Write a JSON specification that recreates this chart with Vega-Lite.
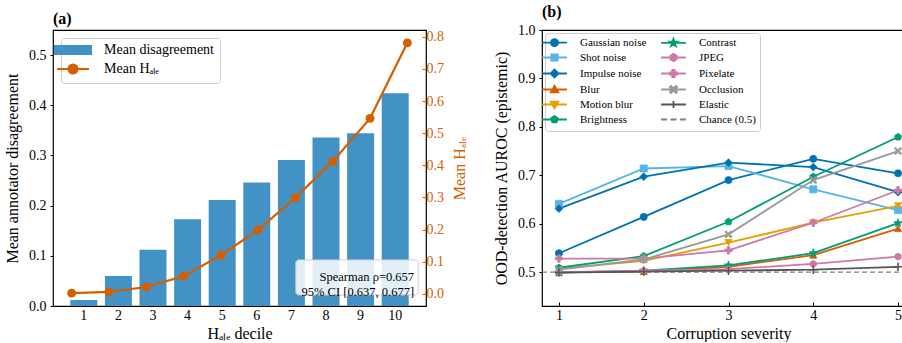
{
  "$schema": "https://vega.github.io/schema/vega-lite/v6.json",
  "padding": {"left": 3, "top": 3, "right": 0, "bottom": 0},
  "background": "white",
  "config": {
    "font": "Liberation Serif",
    "view": {"stroke": "#000", "strokeWidth": 1.2},
    "axis": {"grid": false, "domain": false, "labelFont": "Liberation Serif", "labelFontSize": 14, "labelColor": "#000", "titleFont": "Liberation Serif", "titleFontSize": 16, "titleFontWeight": "normal", "titleColor": "#000", "tickColor": "#000", "tickSize": -4, "labelPadding": 4},
    "legend": {"labelFont": "Liberation Serif", "titleFont": "Liberation Serif"},
    "title": {"font": "Liberation Serif", "fontSize": 16, "fontWeight": "bold", "anchor": "start", "frame": "group", "offset": 3}
  },
  "datasets": {
    "a": [
      {"decile": 1, "disagreement": 0.012, "hale": 0.002},
      {"decile": 2, "disagreement": 0.060, "hale": 0.006},
      {"decile": 3, "disagreement": 0.112, "hale": 0.021},
      {"decile": 4, "disagreement": 0.173, "hale": 0.055},
      {"decile": 5, "disagreement": 0.211, "hale": 0.120},
      {"decile": 6, "disagreement": 0.246, "hale": 0.199},
      {"decile": 7, "disagreement": 0.291, "hale": 0.299},
      {"decile": 8, "disagreement": 0.336, "hale": 0.412},
      {"decile": 9, "disagreement": 0.344, "hale": 0.546},
      {"decile": 10, "disagreement": 0.424, "hale": 0.781}
    ],
    "b": [
      {"series": "Gaussian noise", "severity": 1, "auroc": 0.539},
      {"series": "Gaussian noise", "severity": 2, "auroc": 0.614},
      {"series": "Gaussian noise", "severity": 3, "auroc": 0.690},
      {"series": "Gaussian noise", "severity": 4, "auroc": 0.734},
      {"series": "Gaussian noise", "severity": 5, "auroc": 0.704},
      {"series": "Shot noise", "severity": 1, "auroc": 0.641},
      {"series": "Shot noise", "severity": 2, "auroc": 0.714},
      {"series": "Shot noise", "severity": 3, "auroc": 0.719},
      {"series": "Shot noise", "severity": 4, "auroc": 0.671},
      {"series": "Shot noise", "severity": 5, "auroc": 0.628},
      {"series": "Impulse noise", "severity": 1, "auroc": 0.631},
      {"series": "Impulse noise", "severity": 2, "auroc": 0.697},
      {"series": "Impulse noise", "severity": 3, "auroc": 0.726},
      {"series": "Impulse noise", "severity": 4, "auroc": 0.717},
      {"series": "Impulse noise", "severity": 5, "auroc": 0.665},
      {"series": "Blur", "severity": 1, "auroc": 0.500},
      {"series": "Blur", "severity": 2, "auroc": 0.501},
      {"series": "Blur", "severity": 3, "auroc": 0.511},
      {"series": "Blur", "severity": 4, "auroc": 0.535},
      {"series": "Blur", "severity": 5, "auroc": 0.590},
      {"series": "Motion blur", "severity": 1, "auroc": 0.507},
      {"series": "Motion blur", "severity": 2, "auroc": 0.523},
      {"series": "Motion blur", "severity": 3, "auroc": 0.561},
      {"series": "Motion blur", "severity": 4, "auroc": 0.602},
      {"series": "Motion blur", "severity": 5, "auroc": 0.637},
      {"series": "Brightness", "severity": 1, "auroc": 0.509},
      {"series": "Brightness", "severity": 2, "auroc": 0.533},
      {"series": "Brightness", "severity": 3, "auroc": 0.604},
      {"series": "Brightness", "severity": 4, "auroc": 0.697},
      {"series": "Brightness", "severity": 5, "auroc": 0.779},
      {"series": "Contrast", "severity": 1, "auroc": 0.499},
      {"series": "Contrast", "severity": 2, "auroc": 0.503},
      {"series": "Contrast", "severity": 3, "auroc": 0.514},
      {"series": "Contrast", "severity": 4, "auroc": 0.539},
      {"series": "Contrast", "severity": 5, "auroc": 0.601},
      {"series": "JPEG", "severity": 1, "auroc": 0.500},
      {"series": "JPEG", "severity": 2, "auroc": 0.503},
      {"series": "JPEG", "severity": 3, "auroc": 0.506},
      {"series": "JPEG", "severity": 4, "auroc": 0.517},
      {"series": "JPEG", "severity": 5, "auroc": 0.532},
      {"series": "Pixelate", "severity": 1, "auroc": 0.528},
      {"series": "Pixelate", "severity": 2, "auroc": 0.528},
      {"series": "Pixelate", "severity": 3, "auroc": 0.545},
      {"series": "Pixelate", "severity": 4, "auroc": 0.602},
      {"series": "Pixelate", "severity": 5, "auroc": 0.669},
      {"series": "Occlusion", "severity": 1, "auroc": 0.505},
      {"series": "Occlusion", "severity": 2, "auroc": 0.526},
      {"series": "Occlusion", "severity": 3, "auroc": 0.578},
      {"series": "Occlusion", "severity": 4, "auroc": 0.690},
      {"series": "Occlusion", "severity": 5, "auroc": 0.750},
      {"series": "Elastic", "severity": 1, "auroc": 0.499},
      {"series": "Elastic", "severity": 2, "auroc": 0.501},
      {"series": "Elastic", "severity": 3, "auroc": 0.503},
      {"series": "Elastic", "severity": 4, "auroc": 0.505},
      {"series": "Elastic", "severity": 5, "auroc": 0.511}
    ]
  },
  "spacing": 116,
  "bounds": "flush",
  "resolve": {
    "scale": {"color": "independent"},
    "legend": {"color": "independent"}
  },
  "hconcat": [
    {
      "title": {"text": "(a)"},
      "width": 373,
      "height": 276,
      "data": {"name": "a"},
      "resolve": {"scale": {"x": "independent", "y": "independent"}},
      "layer": [
        {
          "mark": {"type": "bar"},
          "encoding": {
            "x": {"field": "decile", "type": "ordinal", "scale": {"paddingInner": 0.22, "paddingOuter": 0.5}, "axis": {"title": "Hₐₗₑ decile", "labelAngle": 0, "labelPadding": 6, "titlePadding": 3}},
            "y": {"field": "disagreement", "type": "quantitative", "scale": {"domain": [0, 0.55], "nice": false}, "axis": {"title": "Mean annotator disagreement", "values": [0, 0.1, 0.2, 0.3, 0.4, 0.5], "format": ".1f", "tickSize": 3, "titlePadding": 8}},
            "color": {"datum": "Mean disagreement", "type": "nominal", "scale": {"domain": ["Mean disagreement", "Mean Hₐₗₑ"], "range": ["#4292c6", "#D55E00"]},
              "legend": {"title": null, "orient": "top-left", "offset": 8, "fillColor": "#fff", "strokeColor": "#ccc", "cornerRadius": 3, "padding": 5, "labelFontSize": 14, "symbolSize": 100, "labelOffset": 24, "rowPadding": 1,
                "encode": {"symbols": {"update": {
                  "shape": {"signal": "datum.value === 'Mean disagreement' ? 'M-3.6,-0.77H3.6V0.77H-3.6Z' : 'M-3.2,0H3.2M0.9,0A0.9,0.9 0 1,1 -0.9,0A0.9,0.9 0 1,1 0.9,0Z'"},
                  "fill": {"signal": "datum.value === 'Mean disagreement' ? '#4292c6' : '#D55E00'"},
                  "stroke": {"signal": "datum.value === 'Mean disagreement' ? 'transparent' : '#D55E00'"},
                  "strokeWidth": {"value": 2.2},
                  "opacity": {"value": 1},
                  "fillOpacity": {"value": 1}
                }}}
              }}
          }
        },
        {
          "mark": {"type": "line", "strokeWidth": 2.2, "point": {"filled": true, "size": 80}},
          "encoding": {
            "x": {"field": "decile", "type": "ordinal", "scale": {"paddingInner": 0.22, "paddingOuter": 0.5}, "axis": null},
            "y": {"field": "hale", "type": "quantitative", "scale": {"domain": [-0.038, 0.821], "nice": false, "zero": false}, "axis": {"orient": "right", "title": "Mean Hₐₗₑ", "titleColor": "#D55E00", "labelColor": "#D55E00", "tickColor": "#D55E00", "values": [0, 0.1, 0.2, 0.3, 0.4, 0.5, 0.6, 0.7, 0.8], "format": ".1f", "titleAngle": 270, "titleBaseline": "top", "titlePadding": 8}},
            "color": {"datum": "Mean Hₐₗₑ", "type": "nominal"}
          }
        },
        {
          "data": {"values": [{}]},
          "mark": {"type": "rect", "fill": "#fff", "fillOpacity": 0.85, "stroke": "#cccccc", "strokeWidth": 1, "cornerRadius": 3},
          "encoding": {
            "x": {"datum": 0.651, "type": "quantitative", "scale": {"domain": [0, 1]}, "axis": null},
            "x2": {"datum": 0.979},
            "y": {"datum": 0.04, "type": "quantitative", "scale": {"domain": [0, 1]}, "axis": null},
            "y2": {"datum": 0.167}
          }
        },
        {
          "data": {"values": [{}]},
          "mark": {"type": "text", "text": ["Spearman ρ=0.657", "95% CI [0.637, 0.677]"], "align": "right", "baseline": "middle", "fontSize": 12.5, "lineHeight": 15, "font": "Liberation Serif", "color": "#000"},
          "encoding": {
            "x": {"datum": 0.968, "type": "quantitative", "scale": {"domain": [0, 1]}, "axis": null},
            "y": {"datum": 0.106, "type": "quantitative", "scale": {"domain": [0, 1]}, "axis": null}
          }
        }
      ]
    },
    {
      "title": {"text": "(b)"},
      "width": 373,
      "height": 276,
      "layer": [
        {
          "data": {"values": [{}]},
          "mark": {"type": "rule", "color": "#808080", "strokeDash": [5, 3], "strokeWidth": 1.2},
          "encoding": {"y": {"datum": 0.5, "type": "quantitative"}}
        },
        {
          "data": {"name": "b"},
          "mark": {"type": "line", "strokeWidth": 1.8},
          "encoding": {
            "x": {"field": "severity", "type": "quantitative", "scale": {"domain": [0.8, 5.2], "nice": false, "zero": false}, "axis": {"title": "Corruption severity", "values": [1, 2, 3, 4, 5], "format": "d", "labelPadding": 6, "titlePadding": 3}},
            "y": {"field": "auroc", "type": "quantitative", "scale": {"domain": [0.43, 1.0], "nice": false, "zero": false}, "axis": {"title": "OOD-detection AUROC (epistemic)", "values": [0.5, 0.6, 0.7, 0.8, 0.9, 1.0], "format": ".1f", "tickSize": 3, "titlePadding": 8}},
            "color": {"field": "series", "type": "nominal",
              "scale": {"domain": ["Gaussian noise", "Shot noise", "Impulse noise", "Blur", "Motion blur", "Brightness", "Contrast", "JPEG", "Pixelate", "Occlusion", "Elastic", "Chance (0.5)"],
                        "range": ["#0072B2", "#56B4E9", "#0072B2", "#D55E00", "#E69F00", "#009E73", "#009E73", "#CC79A7", "#CC79A7", "#999999", "#555555", "#808080"]},
              "legend": {"title": null, "orient": "top-left", "offset": 3, "columns": 2, "columnPadding": 10, "rowPadding": 0, "fillColor": "#fff", "strokeColor": "#ccc", "cornerRadius": 3, "padding": 4, "labelFontSize": 11, "symbolSize": 64, "labelOffset": 20,
                "encode": {"symbols": {"update": {
                  "shape": {"signal": "({'Gaussian noise':'M-3.1,0H3.1M0.9,0A0.9,0.9 0 1,1 -0.9,0A0.9,0.9 0 1,1 0.9,0Z','Shot noise':'M-3.1,0H3.1M-0.8,-0.8H0.8V0.8H-0.8Z','Impulse noise':'M-3.1,0H3.1M0,-1L1,0L0,1L-1,0Z','Blur':'M-3.1,0H3.1M0,-0.95L0.95,0.7L-0.95,0.7Z','Motion blur':'M-3.1,0H3.1M0,0.95L0.95,-0.7L-0.95,-0.7Z','Brightness':'M-3.1,0H3.1M0,-0.9L0.856,-0.278L0.529,0.728L-0.529,0.728L-0.856,-0.278Z','Contrast':'M-3.1,0H3.1M0,-1L0.235,-0.324L0.951,-0.309L0.38,0.124L0.588,0.809L0,0.4L-0.588,0.809L-0.38,0.124L-0.951,-0.309L-0.235,-0.324Z','JPEG':'M-3.1,0H3.1M0,-0.9L0.78,-0.45L0.78,0.45L0,0.9L-0.78,0.45L-0.78,-0.45Z','Pixelate':'M-3.1,0H3.1M-0.3,-0.9H0.3V-0.3H0.9V0.3H0.3V0.9H-0.3V0.3H-0.9V-0.3H-0.3Z','Occlusion':'M-3.1,0H3.1M-0.6,-0.9L0,-0.3L0.6,-0.9L0.9,-0.6L0.3,0L0.9,0.6L0.6,0.9L0,0.3L-0.6,0.9L-0.9,0.6L-0.3,0L-0.9,-0.6Z','Elastic':'M-3.1,0H3.1M0,-0.9V0.9','Chance (0.5)':'M-3.1,0H-1.6M-0.75,0H0.75M1.6,0H3.1'})[datum.value]"},
                  "fill": {"signal": "({'Gaussian noise':'#0072B2','Shot noise':'#56B4E9','Impulse noise':'#0072B2','Blur':'#D55E00','Motion blur':'#E69F00','Brightness':'#009E73','Contrast':'#009E73','JPEG':'#CC79A7','Pixelate':'#CC79A7','Occlusion':'#999999','Elastic':'#555555','Chance (0.5)':'#808080'})[datum.value]"},
                  "stroke": {"signal": "({'Gaussian noise':'#0072B2','Shot noise':'#56B4E9','Impulse noise':'#0072B2','Blur':'#D55E00','Motion blur':'#E69F00','Brightness':'#009E73','Contrast':'#009E73','JPEG':'#CC79A7','Pixelate':'#CC79A7','Occlusion':'#999999','Elastic':'#555555','Chance (0.5)':'#808080'})[datum.value]"},
                  "strokeWidth": {"value": 1.8},
                  "opacity": {"value": 1},
                  "fillOpacity": {"value": 1}
                }}}
              }}
          }
        },
        {"data": {"name": "b"}, "transform": [{"filter": "datum.series === 'Gaussian noise'"}],
         "mark": {"type": "point", "shape": "circle", "filled": true, "color": "#0072B2", "stroke": "#0072B2", "strokeWidth": 0.8, "size": 50, "opacity": 1},
         "encoding": {"x": {"field": "severity", "type": "quantitative"}, "y": {"field": "auroc", "type": "quantitative"}}},
        {"data": {"name": "b"}, "transform": [{"filter": "datum.series === 'Shot noise'"}],
         "mark": {"type": "point", "shape": "square", "filled": true, "color": "#56B4E9", "stroke": "#56B4E9", "strokeWidth": 0.8, "size": 50, "opacity": 1},
         "encoding": {"x": {"field": "severity", "type": "quantitative"}, "y": {"field": "auroc", "type": "quantitative"}}},
        {"data": {"name": "b"}, "transform": [{"filter": "datum.series === 'Impulse noise'"}],
         "mark": {"type": "point", "shape": "diamond", "filled": true, "color": "#0072B2", "stroke": "#0072B2", "strokeWidth": 0.8, "size": 60, "opacity": 1},
         "encoding": {"x": {"field": "severity", "type": "quantitative"}, "y": {"field": "auroc", "type": "quantitative"}}},
        {"data": {"name": "b"}, "transform": [{"filter": "datum.series === 'Blur'"}],
         "mark": {"type": "point", "shape": "triangle-up", "filled": true, "color": "#D55E00", "stroke": "#D55E00", "strokeWidth": 0.8, "size": 50, "opacity": 1},
         "encoding": {"x": {"field": "severity", "type": "quantitative"}, "y": {"field": "auroc", "type": "quantitative"}}},
        {"data": {"name": "b"}, "transform": [{"filter": "datum.series === 'Motion blur'"}],
         "mark": {"type": "point", "shape": "triangle-down", "filled": true, "color": "#E69F00", "stroke": "#E69F00", "strokeWidth": 0.8, "size": 50, "opacity": 1},
         "encoding": {"x": {"field": "severity", "type": "quantitative"}, "y": {"field": "auroc", "type": "quantitative"}}},
        {"data": {"name": "b"}, "transform": [{"filter": "datum.series === 'Brightness'"}],
         "mark": {"type": "point", "shape": "M0,-1L0.951,-0.309L0.588,0.809L-0.588,0.809L-0.951,-0.309Z", "filled": true, "color": "#009E73", "stroke": "#009E73", "strokeWidth": 0.8, "size": 55, "opacity": 1},
         "encoding": {"x": {"field": "severity", "type": "quantitative"}, "y": {"field": "auroc", "type": "quantitative"}}},
        {"data": {"name": "b"}, "transform": [{"filter": "datum.series === 'Contrast'"}],
         "mark": {"type": "point", "shape": "M0,-1.2L0.282,-0.389L1.141,-0.371L0.456,0.149L0.706,0.971L0,0.48L-0.706,0.971L-0.456,0.149L-1.141,-0.371L-0.282,-0.389Z", "filled": true, "color": "#009E73", "stroke": "#009E73", "strokeWidth": 0.8, "size": 55, "opacity": 1},
         "encoding": {"x": {"field": "severity", "type": "quantitative"}, "y": {"field": "auroc", "type": "quantitative"}}},
        {"data": {"name": "b"}, "transform": [{"filter": "datum.series === 'JPEG'"}],
         "mark": {"type": "point", "shape": "M0,-1L0.866,-0.5L0.866,0.5L0,1L-0.866,0.5L-0.866,-0.5Z", "filled": true, "color": "#CC79A7", "stroke": "#CC79A7", "strokeWidth": 0.8, "size": 50, "opacity": 1},
         "encoding": {"x": {"field": "severity", "type": "quantitative"}, "y": {"field": "auroc", "type": "quantitative"}}},
        {"data": {"name": "b"}, "transform": [{"filter": "datum.series === 'Pixelate'"}],
         "mark": {"type": "point", "shape": "M-0.33,-1H0.33V-0.33H1V0.33H0.33V1H-0.33V0.33H-1V-0.33H-0.33Z", "filled": true, "color": "#CC79A7", "stroke": "#CC79A7", "strokeWidth": 0.8, "size": 55, "opacity": 1},
         "encoding": {"x": {"field": "severity", "type": "quantitative"}, "y": {"field": "auroc", "type": "quantitative"}}},
        {"data": {"name": "b"}, "transform": [{"filter": "datum.series === 'Occlusion'"}],
         "mark": {"type": "point", "shape": "M-0.65,-1L0,-0.35L0.65,-1L1,-0.65L0.35,0L1,0.65L0.65,1L0,0.35L-0.65,1L-1,0.65L-0.35,0L-1,-0.65Z", "filled": true, "color": "#999999", "stroke": "#999999", "strokeWidth": 0.8, "size": 55, "opacity": 1},
         "encoding": {"x": {"field": "severity", "type": "quantitative"}, "y": {"field": "auroc", "type": "quantitative"}}},
        {"data": {"name": "b"}, "transform": [{"filter": "datum.series === 'Elastic'"}],
         "mark": {"type": "point", "shape": "M-1.2,0H1.2M0,-1.2V1.2", "filled": false, "color": "#555555", "strokeWidth": 1.5, "size": 50, "opacity": 1},
         "encoding": {"x": {"field": "severity", "type": "quantitative"}, "y": {"field": "auroc", "type": "quantitative"}}}
      ]
    }
  ]
}
